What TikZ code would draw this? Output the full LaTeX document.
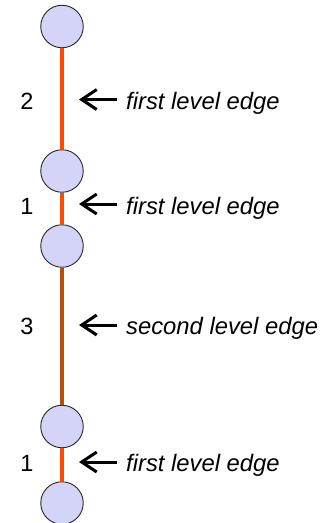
\documentclass[tikz,border=0pt]{standalone}
\usepackage{fontspec}
\setmainfont{Liberation Sans}
\usetikzlibrary{arrows.meta}
\definecolor{vertexfill}{RGB}{212,212,248}
\definecolor{firstedge}{RGB}{255,74,0}
\definecolor{secondedge}{RGB}{180,80,10}
\tikzset{
  vertex/.style={circle, draw=black!85, line width=0.9pt, fill=vertexfill,
    minimum size=42.5pt, inner sep=0pt},
  lvlone/.style={draw=firstedge, line width=4pt},
  lvltwo/.style={draw=secondedge, line width=4pt},
  weight/.style={anchor=base, inner sep=0pt, font=\fontsize{23.5}{28}\selectfont},
  caption/.style={anchor=base west, inner sep=0pt, font=\fontsize{23.8}{28}\selectfont\itshape},
  pointer/.style={line width=3pt, -{Straight Barb[length=15pt,width=20pt,line width=3pt]}}
}
\begin{document}
\begin{tikzpicture}[x=1pt,y=-1pt]
\useasboundingbox (0,0) rectangle (330,523);
% vertices of the path
\node[vertex] (c1) at (62,26.5) {};
\node[vertex] (c2) at (62,171) {};
\node[vertex] (c3) at (62,246) {};
\node[vertex] (c4) at (62,426.5) {};
\node[vertex] (c5) at (62,503) {};
% edges between consecutive vertices
\draw[lvlone] (c1) -- (c2);
\draw[lvlone] (c2) -- (c3);
\draw[lvltwo] (c3) -- (c4);
\draw[lvlone] (c4) -- (c5);
% edge weights
\node[weight] (w1) at (27,109.5) {2};
\node[weight] (w2) at (27,214) {1};
\node[weight] (w3) at (27,334) {3};
\node[weight] (w4) at (27,471) {1};
% captions
\node[caption] (t1) at (126,109.5) {first level edge};
\node[caption] (t2) at (126,214) {first level edge};
\node[caption] (t3) at (126,334) {second level edge};
\node[caption] (t4) at (126,471) {first level edge};
% pointers from captions to edges
\coordinate (s1) at (117,99.5);  \coordinate (e1) at (79,99.5);
\coordinate (s2) at (117,204);   \coordinate (e2) at (79,204);
\coordinate (s3) at (117,325);   \coordinate (e3) at (79,325);
\coordinate (s4) at (117,462);   \coordinate (e4) at (79,462);
\draw[pointer] (s1) -- (e1);
\draw[pointer] (s2) -- (e2);
\draw[pointer] (s3) -- (e3);
\draw[pointer] (s4) -- (e4);
\end{tikzpicture}
\end{document}
